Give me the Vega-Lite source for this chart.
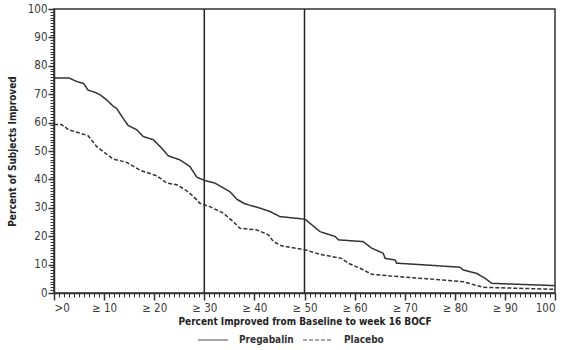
{
  "$schema": "https://vega.github.io/schema/vega-lite/v6.json",
  "autosize": "none",
  "width": 501,
  "height": 284,
  "padding": {"left": 54, "top": 9, "right": 26, "bottom": 57},
  "background": "white",
  "config": {
    "font": "DejaVu Sans Condensed",
    "view": {"stroke": "#333333", "strokeWidth": 1.5},
    "axis": {"labelColor": "#3a3a3a", "titleColor": "#222222", "labelFontSize": 11.5, "titleFontSize": 10, "titleFontWeight": "bold", "domainColor": "#333333", "tickColor": "#333333", "grid": false}
  },
  "datasets": {
    "curves": [
      {"series": "Pregabalin", "x": 0, "y": 75.7},
      {"series": "Pregabalin", "x": 3, "y": 75.7},
      {"series": "Pregabalin", "x": 4.5, "y": 74.5},
      {"series": "Pregabalin", "x": 5.9, "y": 73.8},
      {"series": "Pregabalin", "x": 6.8, "y": 71.4},
      {"series": "Pregabalin", "x": 8, "y": 70.8},
      {"series": "Pregabalin", "x": 9.2, "y": 69.8},
      {"series": "Pregabalin", "x": 10.5, "y": 68},
      {"series": "Pregabalin", "x": 11.8, "y": 65.8},
      {"series": "Pregabalin", "x": 12.5, "y": 65},
      {"series": "Pregabalin", "x": 13.8, "y": 61.5},
      {"series": "Pregabalin", "x": 14.8, "y": 59},
      {"series": "Pregabalin", "x": 16.5, "y": 57.5},
      {"series": "Pregabalin", "x": 17.8, "y": 55.1},
      {"series": "Pregabalin", "x": 19.8, "y": 54},
      {"series": "Pregabalin", "x": 21.5, "y": 51},
      {"series": "Pregabalin", "x": 22.8, "y": 48.3},
      {"series": "Pregabalin", "x": 25.1, "y": 46.9},
      {"series": "Pregabalin", "x": 27.1, "y": 44.6},
      {"series": "Pregabalin", "x": 28.5, "y": 40.8},
      {"series": "Pregabalin", "x": 30.1, "y": 39.6},
      {"series": "Pregabalin", "x": 32.1, "y": 38.7},
      {"series": "Pregabalin", "x": 35.1, "y": 35.7},
      {"series": "Pregabalin", "x": 36.5, "y": 33.0},
      {"series": "Pregabalin", "x": 38.1, "y": 31.4},
      {"series": "Pregabalin", "x": 41.1, "y": 29.9},
      {"series": "Pregabalin", "x": 43.1, "y": 28.7},
      {"series": "Pregabalin", "x": 45.1, "y": 26.9},
      {"series": "Pregabalin", "x": 50.1, "y": 26.0},
      {"series": "Pregabalin", "x": 53.1, "y": 21.6},
      {"series": "Pregabalin", "x": 56.1, "y": 19.9},
      {"series": "Pregabalin", "x": 56.8, "y": 18.7},
      {"series": "Pregabalin", "x": 61.7, "y": 18.1},
      {"series": "Pregabalin", "x": 63.4, "y": 15.8},
      {"series": "Pregabalin", "x": 65.7, "y": 14.0},
      {"series": "Pregabalin", "x": 66.1, "y": 12.2},
      {"series": "Pregabalin", "x": 68.1, "y": 11.6},
      {"series": "Pregabalin", "x": 68.4, "y": 10.5},
      {"series": "Pregabalin", "x": 81.0, "y": 9.1},
      {"series": "Pregabalin", "x": 81.7, "y": 8.1},
      {"series": "Pregabalin", "x": 84.4, "y": 6.9},
      {"series": "Pregabalin", "x": 86.0, "y": 5.2},
      {"series": "Pregabalin", "x": 87.4, "y": 3.4},
      {"series": "Pregabalin", "x": 100, "y": 2.6},
      {"series": "Placebo", "x": 0, "y": 59.3},
      {"series": "Placebo", "x": 1.5, "y": 59.3},
      {"series": "Placebo", "x": 2.9, "y": 57.5},
      {"series": "Placebo", "x": 6.8, "y": 55.4},
      {"series": "Placebo", "x": 8.5, "y": 51.6},
      {"series": "Placebo", "x": 9.8, "y": 49.8},
      {"series": "Placebo", "x": 11.8, "y": 47.2},
      {"series": "Placebo", "x": 14.5, "y": 46.0},
      {"series": "Placebo", "x": 17.2, "y": 43.2},
      {"series": "Placebo", "x": 20.5, "y": 41.3},
      {"series": "Placebo", "x": 22.5, "y": 38.7},
      {"series": "Placebo", "x": 24.5, "y": 38.1},
      {"series": "Placebo", "x": 26.5, "y": 36.0},
      {"series": "Placebo", "x": 27.5, "y": 34.5},
      {"series": "Placebo", "x": 28.5, "y": 32.8},
      {"series": "Placebo", "x": 29.1, "y": 31.6},
      {"series": "Placebo", "x": 31.1, "y": 30.4},
      {"series": "Placebo", "x": 33.8, "y": 28.1},
      {"series": "Placebo", "x": 35.8, "y": 25.1},
      {"series": "Placebo", "x": 37.1, "y": 22.8},
      {"series": "Placebo", "x": 40.5, "y": 22.2},
      {"series": "Placebo", "x": 42.8, "y": 20.5},
      {"series": "Placebo", "x": 43.8, "y": 18.1},
      {"series": "Placebo", "x": 45.4, "y": 16.6},
      {"series": "Placebo", "x": 50.1, "y": 15.2},
      {"series": "Placebo", "x": 53.1, "y": 13.6},
      {"series": "Placebo", "x": 57.4, "y": 12.2},
      {"series": "Placebo", "x": 58.7, "y": 10.5},
      {"series": "Placebo", "x": 61.1, "y": 8.7},
      {"series": "Placebo", "x": 63.4, "y": 6.6},
      {"series": "Placebo", "x": 67.1, "y": 6.0},
      {"series": "Placebo", "x": 81.7, "y": 4.0},
      {"series": "Placebo", "x": 84.4, "y": 2.6},
      {"series": "Placebo", "x": 85.7, "y": 2.0},
      {"series": "Placebo", "x": 100, "y": 1.3}
    ],
    "refs": [{"x": 30}, {"x": 50}]
  },
  "layer": [
    {
      "data": {"name": "refs"},
      "mark": {"type": "rule", "color": "#222222", "strokeWidth": 1.5},
      "encoding": {
        "x": {"field": "x", "type": "quantitative", "scale": {"domain": [0, 100], "nice": false},
          "axis": {"orient": "bottom", "values": [0,1,2,3,4,5,6,7,8,9,10,11,12,13,14,15,16,17,18,19,20,21,22,23,24,25,26,27,28,29,30,31,32,33,34,35,36,37,38,39,40,41,42,43,44,45,46,47,48,49,50,51,52,53,54,55,56,57,58,59,60,61,62,63,64,65,66,67,68,69,70,71,72,73,74,75,76,77,78,79,80,81,82,83,84,85,86,87,88,89,90,91,92,93,94,95,96,97,98,99,100], "labels": false, "tickSize": 4, "domain": false, "title": null}}
      }
    },
    {
      "data": {"name": "refs"},
      "mark": {"type": "rule", "opacity": 0},
      "encoding": {
        "y": {"field": "x", "type": "quantitative", "scale": {"domain": [0, 100], "nice": false},
          "axis": {"orient": "left", "values": [0,1,2,3,4,5,6,7,8,9,10,11,12,13,14,15,16,17,18,19,20,21,22,23,24,25,26,27,28,29,30,31,32,33,34,35,36,37,38,39,40,41,42,43,44,45,46,47,48,49,50,51,52,53,54,55,56,57,58,59,60,61,62,63,64,65,66,67,68,69,70,71,72,73,74,75,76,77,78,79,80,81,82,83,84,85,86,87,88,89,90,91,92,93,94,95,96,97,98,99,100], "labels": false, "tickSize": 4, "domain": false, "title": null}}
      }
    },
    {
      "data": {"name": "curves"},
      "mark": {"type": "line", "color": "#333333", "strokeWidth": 1.5},
      "encoding": {
        "x": {"field": "x", "type": "quantitative", "scale": {"domain": [0, 100], "nice": false},
          "axis": {"orient": "bottom", "values": [0, 10, 20, 30, 40, 50, 60, 70, 80, 90, 100], "tickSize": 7, "tickWidth": 1.5, "domainWidth": 1.5, "labelPadding": 2, "labelExpr": "datum.value == 0 ? '>0' : (datum.value == 100 ? '100' : '≥ ' + datum.value)", "title": "Percent Improved from Baseline to week 16 BOCF", "titlePadding": 3}},
        "y": {"field": "y", "type": "quantitative", "scale": {"domain": [0, 100], "nice": false},
          "axis": {"orient": "left", "values": [0, 10, 20, 30, 40, 50, 60, 70, 80, 90, 100], "tickSize": 6, "tickWidth": 1.5, "domainWidth": 1.5, "labelPadding": 1, "title": "Percent of Subjects Improved", "titlePadding": 10}},
        "strokeDash": {"field": "series", "type": "nominal",
          "scale": {"domain": ["Pregabalin", "Placebo"], "range": [[1, 0], [4, 2]]},
          "legend": {"orient": "none", "legendX": 143, "legendY": 315, "direction": "horizontal", "title": null, "symbolType": "stroke", "symbolSize": 900, "symbolStrokeColor": "#888888", "symbolStrokeWidth": 1.5, "labelFontSize": 10, "labelFontWeight": "bold", "labelColor": "#333333", "labelOffset": 10, "columnPadding": 6}}
      }
    }
  ],
  "resolve": {"axis": {"x": "independent", "y": "independent"}}
}
